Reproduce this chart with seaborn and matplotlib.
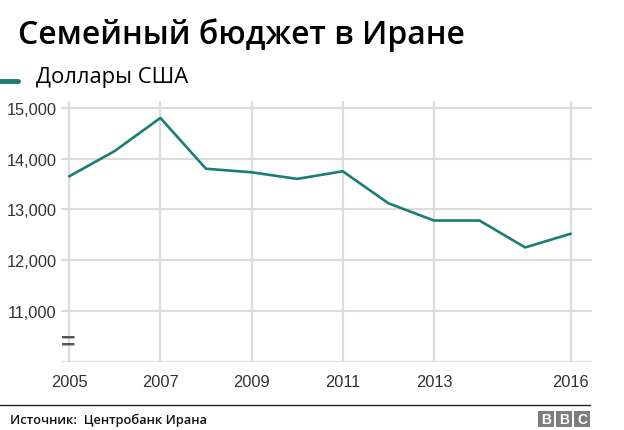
import matplotlib
matplotlib.use("Agg")
import matplotlib.pyplot as plt
import seaborn as sns
import pandas as pd
from matplotlib.patches import Rectangle
from matplotlib.lines import Line2D

years = [2005, 2006, 2007, 2008, 2009, 2010, 2011, 2012, 2013, 2014, 2015, 2016]
budget_usd = [13650, 14150, 14800, 13800, 13730, 13600, 13750, 13120, 12780, 12780, 12250, 12520]
x_ticks = [2005, 2007, 2009, 2011, 2013, 2016]
y_ticks = [11000, 12000, 13000, 14000, 15000]
y_tick_labels = ["11,000", "12,000", "13,000", "14,000", "15,000"]

title = "Семейный бюджет в Иране"
subtitle = "Доллары США"
source = "Источник:  Центробанк Ирана"

df = pd.DataFrame({"year": years, "value": budget_usd})

sns.set_style("white")
plt.rcParams["font.family"] = ["Liberation Sans", "DejaVu Sans"]

W, H = 624, 431
fig = plt.figure(figsize=(W / 100, H / 100), dpi=100)
ax = fig.add_axes([61 / W, (H - 362.7) / H, 530.7 / W, 260.5 / H])

teal = "#1a7d76"
grid = "#dddddd"

sns.lineplot(data=df, x="year", y="value", ax=ax, color=teal, linewidth=1.9)

ax.set_xlim(2004.82, 2016.46)
ax.set_ylim(10000, 15130)
ax.set_xticks(x_ticks)
ax.set_xticklabels([str(t) for t in x_ticks])
ax.set_yticks(y_ticks)
ax.set_yticklabels(y_tick_labels)
for s in ax.spines.values():
    s.set_visible(False)
ax.axhline(10000, color=grid, linewidth=1.6, zorder=0)
for yv in y_ticks:
    ax.axhline(yv, color=grid, linewidth=1.6, zorder=0)
for xv in x_ticks:
    ax.axvline(xv, color=grid, linewidth=1.6, zorder=0)
ax.tick_params(axis="y", length=0, pad=3, labelsize=11.8, labelcolor="#333333")
ax.tick_params(axis="x", length=4, width=1.6, color=grid, pad=5, labelsize=11.8, labelcolor="#333333")
ax.set_xlabel("")
ax.set_ylabel("")

fig.text(68 / W, 1 - 343 / H, "=", ha="center", va="center",
         fontsize=18, color="#555555", fontweight="bold")

fig.text(18 / W, 1 - 35 / H, title, fontsize=23, family=["Open Sans", "DejaVu Sans"],
         fontweight="semibold", color="#000000", va="center", ha="left")
fig.text(36 / W, 1 - 77 / H, subtitle, fontsize=15.8, family=["Open Sans", "DejaVu Sans"],
         color="#000000", va="center", ha="left")
fig.add_artist(Line2D([0, 18 / W], [1 - 82 / H, 1 - 82 / H], transform=fig.transFigure,
                      color=teal, linewidth=3.5))

fig.add_artist(Line2D([0, 590 / W], [1 - 406 / H, 1 - 406 / H], transform=fig.transFigure,
                      color="#222222", linewidth=1.0))
fig.text(10 / W, 1 - 420 / H, source, fontsize=9.3, family=["Open Sans", "DejaVu Sans"],
         fontweight="semibold", color="#111111", va="center", ha="left")

bx0 = 538
for i, letter in enumerate("BBC"):
    x0 = bx0 + i * 18
    fig.add_artist(Rectangle((x0 / W, 1 - 428 / H), 16 / W, 16 / H, transform=fig.transFigure,
                             facecolor="#7d7d7d", edgecolor="none"))
    fig.text((x0 + 8) / W, 1 - 420 / H, letter, fontsize=10, fontweight="bold", color="white",
             ha="center", va="center")

fig.savefig("out.png", dpi=100, facecolor="white")
